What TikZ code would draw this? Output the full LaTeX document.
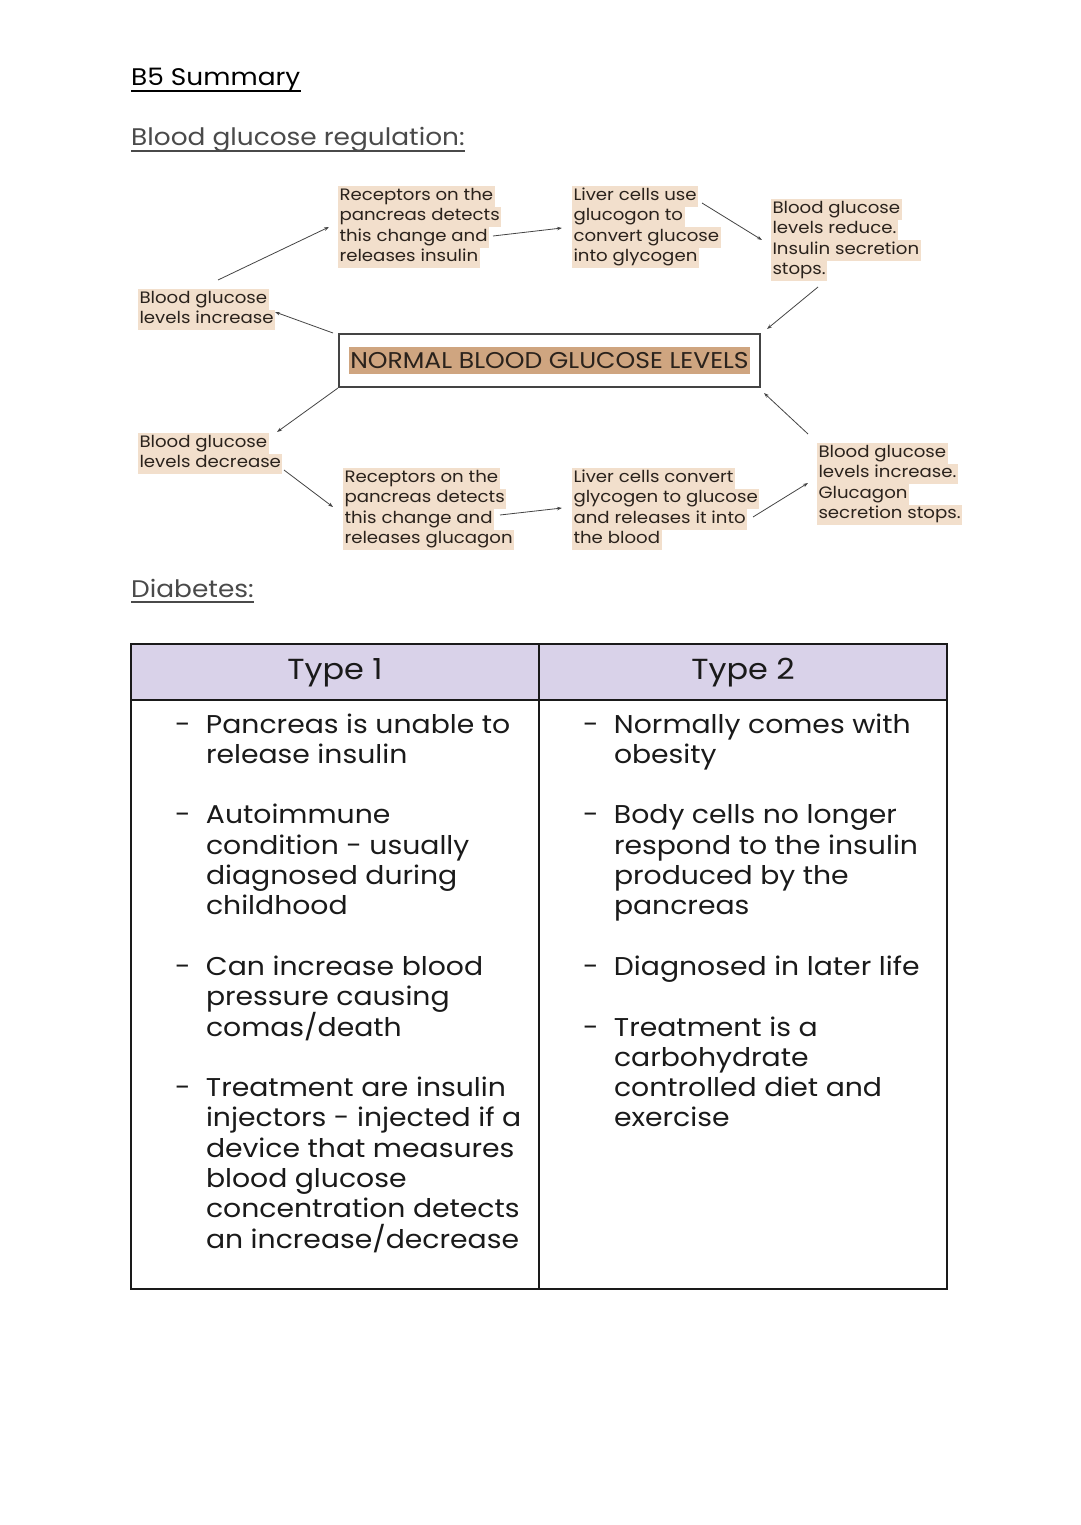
\documentclass[tikz,border=0pt]{standalone}
\usepackage{fontspec}
\setmainfont{Poppins}[FakeStretch=1.1]
\usetikzlibrary{arrows.meta}
\definecolor{hlA}{HTML}{F2DFCC}
\definecolor{hlB}{HTML}{CFA580}
\definecolor{lav}{HTML}{D9D2E9}
\definecolor{dtext}{HTML}{2A221C}
\definecolor{gtext}{HTML}{4A4A4A}
\definecolor{ttext}{HTML}{1A1A1A}
\definecolor{arr}{HTML}{444444}
\setlength{\fboxsep}{0pt}
\newcommand{\hlx}[1]{\colorbox{hlA}{\strut\hspace{1.5pt}#1\hspace{1.5pt}}}
\begin{document}
\begin{tikzpicture}[x=1pt,y=-1pt,
  hlnode/.style={anchor=north west, inner sep=0pt, outer sep=0pt, align=left,
    font=\fontsize{16.5}{20.5}\selectfont, text=dtext},
  heading/.style={anchor=base west, inner sep=0pt, font=\fontsize{24}{28}\selectfont},
  tbody/.style={anchor=north west, inner sep=0pt, outer sep=0pt,
    font=\fontsize{25.7}{30.3}\selectfont, text=ttext},
  thead/.style={inner sep=0pt, font=\fontsize{29}{34}\selectfont, text=ttext},
  arrow/.style={draw=arr, line width=0.8pt, -{Stealth[length=5pt,width=3.5pt]}},
  uline/.style={line width=1.6pt}
]
\useasboundingbox[fill=white] (0,0) rectangle (1080,1525);

% headings
\node[heading, text=black] (title) at (131,86) {B5 Summary};
\draw[uline, black] ([shift={(0,5)}]title.base west) -- ([shift={(0,5)}]title.base east);
\node[heading, text=gtext] (bgr) at (131,146) {Blood glucose regulation:};
\draw[uline, gtext, line width=1.3pt] ([shift={(0,5)}]bgr.base west) -- ([shift={(0,5)}]bgr.base east);
\node[heading, text=gtext] (diab) at (131,597) {Diabetes:};
\draw[uline, gtext, line width=1.3pt] ([shift={(0,5)}]diab.base west) -- ([shift={(0,5)}]diab.base east);

% diagram nodes
\node[hlnode] (A) at (338,186) {\hlx{Receptors on the}\\\hlx{pancreas detects}\\\hlx{this change and}\\\hlx{releases insulin}};
\node[hlnode] (B) at (572,186) {\hlx{Liver cells use}\\\hlx{glucogon to}\\\hlx{convert glucose}\\\hlx{into glycogen}};
\node[hlnode] (C) at (771,199) {\hlx{Blood glucose}\\\hlx{levels reduce.}\\\hlx{Insulin secretion}\\\hlx{stops.}};
\node[hlnode] (D) at (138,289) {\hlx{Blood glucose}\\\hlx{levels increase}};
\node[draw=arr, line width=1.4pt, inner sep=0pt, outer sep=0pt, minimum width=421pt, minimum height=53pt,
  font=\fontsize{22.8}{27}\selectfont, text=dtext] (N) at (549.5,360.5)
  {\colorbox{hlB}{\rule[-5.5pt]{0pt}{27pt}\hspace{1pt}NORMAL BLOOD GLUCOSE LEVELS\hspace{1pt}}};
\node[hlnode] (E) at (138,433) {\hlx{Blood glucose}\\\hlx{levels decrease}};
\node[hlnode] (F) at (343,468) {\hlx{Receptors on the}\\\hlx{pancreas detects}\\\hlx{this change and}\\\hlx{releases glucagon}};
\node[hlnode] (G) at (572,468) {\hlx{Liver cells convert}\\\hlx{glycogen to glucose}\\\hlx{and releases it into}\\\hlx{the blood}};
\node[hlnode] (H) at (817,443) {\hlx{Blood glucose}\\\hlx{levels increase.}\\\hlx{Glucagon}\\\hlx{secretion stops.}};

% arrows
\draw[arrow] ([shift={(80,-9)}]D.north west) -- ([shift={(-9,41)}]A.north west);
\draw[arrow] ([shift={(-6,-1)}]N.north west) -- ([shift={(137,23)}]D.north west);
\draw[arrow] ([shift={(155,50)}]A.north west) -- ([shift={(-10,42)}]B.north west);
\draw[arrow] ([shift={(130,17)}]B.north west) -- ([shift={(-9,41)}]C.north west);
\draw[arrow] ([shift={(47,88)}]C.north west) -- ([shift={(7,-5)}]N.north east);
\draw[arrow] ([shift={(-1,1)}]N.south west) -- ([shift={(139,-1)}]E.north west);
\draw[arrow] ([shift={(146,37)}]E.north west) -- ([shift={(-10,39)}]F.north west);
\draw[arrow] ([shift={(157,47)}]F.north west) -- ([shift={(-10,40)}]G.north west);
\draw[arrow] ([shift={(181,49)}]G.north west) -- ([shift={(-9,40)}]H.north west);
\draw[arrow] ([shift={(-9,-9)}]H.north west) -- ([shift={(4,6)}]N.south east);

% table
\fill[lav] (131,644) rectangle (947,700);
\draw[line width=1.5pt, ttext] (131,644) rectangle (947,1289);
\draw[line width=1.5pt, ttext] (131,700) -- (947,700);
\draw[line width=1.5pt, ttext] (539,644) -- (539,1289);
\node[thead] (h1) at (335,673) {Type 1};
\node[thead] (h2) at (743,673) {Type 2};

\node[tbody] (T1) at (175,711.8) {\begin{tabular}{@{}p{31pt}@{}l@{}}
-&Pancreas is unable to\\
&release insulin\\
&\\
-&Autoimmune\\
&condition - usually\\
&diagnosed during\\
&childhood\\
&\\
-&Can increase blood\\
&pressure causing\\
&\smash{comas/death}\\
&\\
-&Treatment are insulin\\
&injectors - injected if a\\
&device that measures\\
&blood glucose\\
&concentration detects\\
&\smash{an increase/decrease}
\end{tabular}};
\node[tbody] (T2) at (583,711.8) {\begin{tabular}{@{}p{31pt}@{}l@{}}
-&Normally comes with\\
&obesity\\
&\\
-&Body cells no longer\\
&respond to the insulin\\
&produced by the\\
&pancreas\\
&\\
-&Diagnosed in later life\\
&\\
-&Treatment is a\\
&carbohydrate\\
&controlled diet and\\
&exercise
\end{tabular}};
\end{tikzpicture}
\end{document}
